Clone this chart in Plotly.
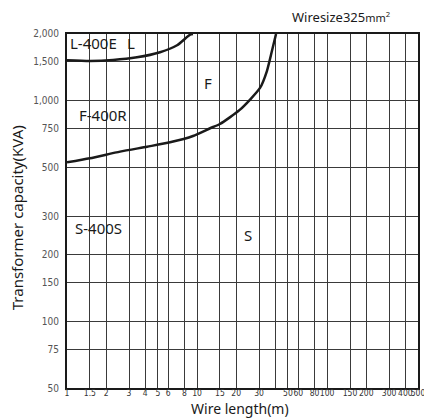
import plotly.graph_objects as go

# values (wire length m, capacity KVA)
l_len = [1, 1.5, 2.26, 3.45, 5.19, 7.02, 8.84, 9.3]
l_kva = [1521, 1510, 1525, 1568, 1653, 1778, 1985, 2000]

f_len = [1, 1.5, 2.56, 4.13, 6.2, 9.31, 12.6, 15.0, 21.4, 30.5, 34.4, 37.6, 40.5]
f_kva = [525, 548, 587, 618, 647, 691, 749, 783, 909, 1140, 1356, 1670, 2000]

x_ticks = [1, 1.5, 2, 3, 4, 5, 6, 8, 10, 15, 20, 30, 50, 60, 80, 100, 150, 200, 300, 400, 500]
x_labels = ["1", "1.5", "2", "3", "4", "5", "6", "8", "10", "15", "20", "30", "50", "60", "80",
            "100", "150", "200", "300", "400", "500"]
x_extra_grid = [40]
y_ticks = [50, 75, 100, 150, 200, 300, 500, 750, 1000, 1500, 2000]
y_labels = ["50", "75", "100", "150", "200", "300", "500", "750", "1,000", "1,500", "2,000"]

INK = "#1a1a1a"
GRID = "#3a3a3a"
FONT = "Noto Sans, DejaVu Sans, sans-serif"
NARROW = "Liberation Sans Narrow, DejaVu Sans Condensed, sans-serif"

fig = go.Figure()
for xs, ys in [(l_len, l_kva), (f_len, f_kva)]:
    fig.add_trace(go.Scatter(x=xs, y=ys, mode="lines",
                             line=dict(color=INK, width=2.5, shape="spline", smoothing=0.6),
                             showlegend=False, hoverinfo="skip"))

labels = [
    ("L-400E", 0.004, 0.975, "left"),
    ("L", 0.165, 0.975, "left"),
    ("F", 0.402, 0.862, "center"),
    ("F-400R", 0.028, 0.771, "left"),
    ("S-400S", 0.017, 0.452, "left"),
    ("S", 0.516, 0.432, "center"),
]
for txt, xp, yp, anchor in labels:
    fig.add_annotation(text=txt, x=xp, y=yp, xref="paper", yref="paper", xanchor=anchor, yanchor="middle",
                       showarrow=False, font=dict(size=15, color=INK, family=FONT))

fig.add_annotation(text="Wiresize325<span style='font-size:11px'>mm<sup>2</sup></span>",
                   x=0.926, y=1.048, xref="paper", yref="paper", xanchor="right", yanchor="middle",
                   showarrow=False, font=dict(size=13, color=INK, family=FONT))

# axis titles
fig.add_annotation(text="Wire length(m)", x=0.494, y=-0.057, xref="paper", yref="paper",
                   xanchor="center", yanchor="middle", showarrow=False,
                   font=dict(size=14, color=INK, family=FONT))
fig.add_annotation(text="Transformer capacity(KVA)", x=-0.142, y=0.48, xref="paper", yref="paper",
                   xanchor="center", yanchor="middle", textangle=-90, showarrow=False,
                   font=dict(size=15, color=INK, family=FONT))

fig.update_xaxes(
    type="log", range=[0, 2.699], tickvals=x_ticks, ticktext=x_labels, tickangle=0,
    showgrid=True, gridcolor=GRID, gridwidth=1, showline=True, linecolor=INK, linewidth=2, mirror=True,
    minor=dict(tickvals=x_extra_grid, showgrid=True, gridcolor=GRID, gridwidth=1, ticks=""),
    ticks="", ticklabelstandoff=-4, tickfont=dict(size=8.5, color="#333", family=NARROW),
    zeroline=False, automargin=False,
)
fig.update_yaxes(
    type="log", range=[1.699, 3.301], tickvals=y_ticks, ticktext=y_labels,
    showgrid=True, gridcolor=GRID, gridwidth=1, showline=True, linecolor=INK, linewidth=2, mirror=True,
    ticks="", ticklabelstandoff=4, tickfont=dict(size=10, color="#555", family=NARROW),
    zeroline=False, automargin=False,
)
# page body has an 8px margin, so the figure is trimmed by that amount
fig.update_layout(
    width=424, height=411,
    margin=dict(l=59, r=14, t=26, b=31),
    paper_bgcolor="white", plot_bgcolor="white",
    showlegend=False,
)
fig.write_html("out.html")
